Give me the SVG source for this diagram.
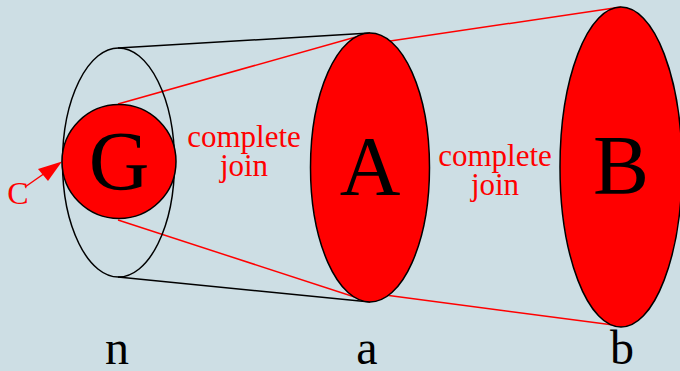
<svg xmlns="http://www.w3.org/2000/svg" width="680" height="371" viewBox="0 0 680 371">
<defs>
<style>
.blk{fill:none;stroke:#000;stroke-width:1.5}
.red{fill:none;stroke:#f00;stroke-width:1.5}
.node{fill:#f00;stroke:#000;stroke-width:1.5}
.big{font-size:84px;fill:#000;text-anchor:middle}
.lbl{font-size:31px;fill:#f00;text-anchor:middle}
.bot{font-size:48px;fill:#000;text-anchor:middle}
</style>
</defs>
<rect width="680" height="371" fill="#cddee4"/>
<g id="connectors">
<line class="blk" x1="118" y1="48" x2="370" y2="33"/>
<line class="blk" x1="118" y1="277" x2="370" y2="302"/>
<line class="red" x1="118" y1="104" x2="370" y2="33"/>
<line class="red" x1="118" y1="220" x2="370" y2="302"/>
<line class="red" x1="370" y1="44" x2="621" y2="7"/>
<line class="red" x1="370" y1="293" x2="621" y2="326"/>
<line class="red" x1="25" y1="187" x2="45" y2="173"/>
<polygon points="62,161.5 38,169 48,181" fill="#f00"/>
</g>
<g id="n">
<ellipse class="blk" cx="118.5" cy="162.5" rx="56" ry="114.5"/>
</g>
<g id="G">
<circle class="node" cx="119" cy="161.5" r="57"/>
<text class="big" font-family="Liberation Serif, serif" x="119" y="190">G</text>
</g>
<g id="A">
<ellipse class="node" cx="370" cy="167.5" rx="59.5" ry="134.5"/>
<text class="big" font-family="Liberation Serif, serif" x="370" y="195">A</text>
</g>
<g id="B">
<ellipse class="node" cx="621" cy="167" rx="61" ry="160"/>
<text class="big" font-family="Liberation Serif, serif" x="621" y="194">B</text>
</g>
<g id="labels" font-family="Liberation Serif, serif">
<text class="lbl" x="244" y="147">complete</text>
<text class="lbl" x="244" y="176">join</text>
<text class="lbl" x="495" y="166">complete</text>
<text class="lbl" x="495" y="195">join</text>
<text class="lbl" x="18" y="204" style="font-size:32px">C</text>
<text class="bot" x="117" y="364">n</text>
<text class="bot" x="367" y="364">a</text>
<text class="bot" x="622" y="364">b</text>
</g>
</svg>
